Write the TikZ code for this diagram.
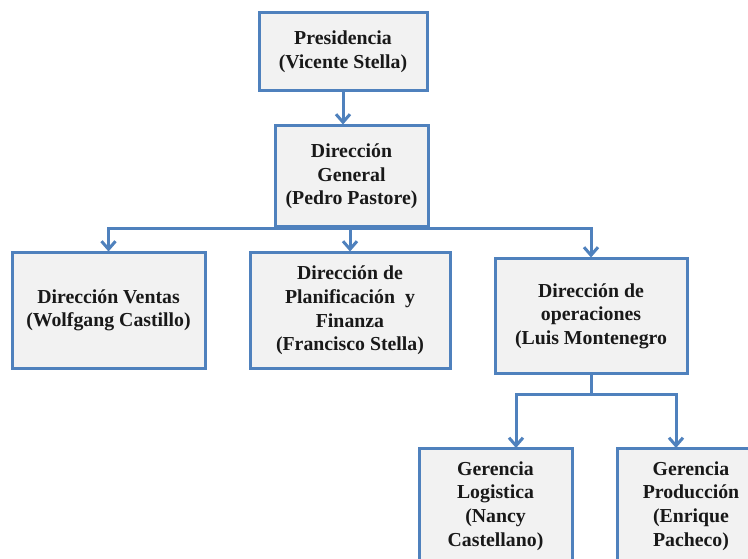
\documentclass[tikz,border=0pt]{standalone}
\usepackage{fontspec}
\setmainfont{Liberation Serif}
\usetikzlibrary{arrows.meta}
\definecolor{edgeblue}{RGB}{79,129,189}
\definecolor{boxfill}{RGB}{242,242,242}
\definecolor{txt}{RGB}{25,25,25}
\tikzset{
  boxtext/.style={align=center, text=txt, inner sep=0pt,
    font=\bfseries\fontsize{19.8}{23.6}\selectfont},
  orgbox/.style={boxtext, draw=edgeblue, fill=boxfill, line width=3pt, rectangle},
  conn/.style={draw=edgeblue, line width=3pt,
    -{Straight Barb[length=8pt,width=14pt,line width=3pt]}},
  bar/.style={draw=edgeblue, line width=3pt}
}
\begin{document}
\begin{tikzpicture}[x=1pt,y=-1pt]
\useasboundingbox (0,0) rectangle (748,559);
\clip (0,0) rectangle (748,559);
\fill[white] (0,0) rectangle (748,559);

% boxes
\node[orgbox, minimum width=168pt, minimum height=78pt] (pres) at (343,52)
  {Presidencia\\(Vicente Stella)};
\node[orgbox, minimum width=153pt, minimum height=101pt] (dg) at (351.5,176.5)
  {Dirección\\General\\(Pedro Pastore)};
\node[orgbox, minimum width=193pt, minimum height=115pt] (ventas) at (108.5,310.5)
  {Dirección Ventas\\(Wolfgang Castillo)};
\node[orgbox, minimum width=200pt, minimum height=115pt] (plan) at (350,310.5)
  {Dirección de\\Planificación\ \ y\\Finanza\\(Francisco Stella)};
\node[orgbox, minimum width=192pt, minimum height=114pt] (ops) at (591,316)
  {Dirección de\\operaciones\\(Luis Montenegro};
\node[orgbox, minimum width=153pt, minimum height=116pt] (log) at (495.5,506)
  {Gerencia\\Logistica\\(Nancy\\Castellano)};
% the last box runs on past the right and bottom edges of the page
\fill[boxfill] (617,448) rectangle (760,570);
\draw[edgeblue, line width=3pt] (617,570) -- (617,448) -- (760,448);
\node[boxtext] (prod) at (691,506) {Gerencia\\Producción\\(Enrique\\Pacheco)};

% connectors
\draw[conn] (pres.south) -- (pres.south |- dg.north);
\draw[conn] (dg.south) -| (ventas.north);
\draw[conn] (dg.south) -| (ops.north);
\draw[conn] (dg.south -| plan.north) -- (plan.north);

\coordinate (opsbar) at (591,394);
\coordinate (login) at (516,448);
\coordinate (prodin) at (676,448);
\draw[bar] (ops.south) -- (opsbar);
\draw[conn] (opsbar) -| (login);
\draw[conn] (opsbar) -| (prodin);
\end{tikzpicture}
\end{document}
